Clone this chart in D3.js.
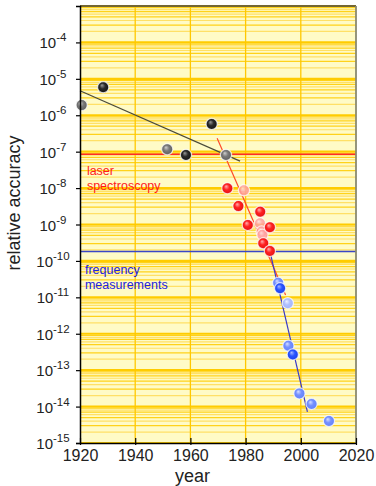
<!DOCTYPE html>
<html><head><meta charset="utf-8">
<script src="https://cdn.jsdelivr.net/npm/d3@7"></script>
<style>html,body{margin:0;padding:0;background:#fff;}svg{display:block;font-family:"Liberation Sans",Arial,sans-serif;}</style>
</head><body>
<svg id="c" width="376" height="486"></svg>
<script>
// ---- data ----
const histYears = [1920.6, 1928.4, 1951.6, 1958.4, 1967.7, 1972.9];
const histVals  = [1.9e-6, 5.9e-6, 1.16e-7, 8.1e-8, 5.75e-7, 8.1e-8];
const histShade = ["gray","black","gray","black","black","gray"];

const laserYears = [1973.4, 1979.4, 1977.4, 1985.3, 1980.8, 1985.2, 1985.8, 1986.1, 1988.8, 1986.4, 1988.8];
const laserVals  = [9.9e-9, 8.7e-9, 3.2e-9, 2.25e-9, 9.7e-10, 1.08e-9, 6.4e-10, 5.2e-10, 8.4e-10, 3.05e-10, 1.88e-10];
const laserShade = ["red","pink","red","red","red","pink","pink","pink","red","red","red"];

const freqYears = [1991.8, 1992.5, 1995.3, 1995.5, 1997.1, 1999.5, 2003.9, 2010.2];
const freqVals  = [2.5e-11, 1.77e-11, 6.9e-12, 4.7e-13, 2.7e-13, 2.3e-14, 1.18e-14, 4.0e-15];
const freqShade = ["blue","dblue","lblue","blue","dblue","blue","blue","blue"];

const histFitYears = [1920, 1978];   const histFitVals = [4.7e-6, 5.5e-8];
const laserFitYears = [1969.7, 1994.5]; const laserFitVals = [2.33e-7, 1.16e-11];
const freqFitYears = [1989.1, 2002.4];  const freqFitVals = [1.46e-10, 7.2e-15];

const laserBoundary = 8.5e-8;
const freqBoundary = 1.8e-10;

const xTicks = [1920, 1940, 1960, 1980, 2000, 2020];
const yTickExps = [-4, -5, -6, -7, -8, -9, -10, -11, -12, -13, -14, -15];
const yDomain = [1e-15, 1e-3];
const xDomain = [1920, 2020];

// ---- layout ----
const L = 80, R = 356, T = 6, B = 443;
const svg = d3.select("#c");
const x = d3.scaleLinear().domain(xDomain).range([L, R]);
const y = d3.scaleLog().domain(yDomain).range([B, T]);

// gradients
const shades = {
  black: ["#9a9a9a", "#2a2a2a", "#111"],
  gray:  ["#d0d0d0", "#7a7a7a", "#5a5a5a"],
  red:   ["#ffb0b0", "#ff2222", "#e01010"],
  pink:  ["#ffe0e0", "#ffa4a4", "#ff9090"],
  blue:  ["#d8e0ff", "#7590ff", "#6080f8"],
  dblue: ["#a8b8ff", "#2a55ff", "#1a3ee8"],
  lblue: ["#f0f3ff", "#b0c0ff", "#a0b2fb"]
};
const defs = svg.append("defs");
Object.entries(shades).forEach(([k, c]) => {
  const g = defs.append("radialGradient").attr("id", "g-" + k)
    .attr("cx", "50%").attr("cy", "50%").attr("r", "55%").attr("fx", "38%").attr("fy", "32%");
  g.append("stop").attr("offset", "0%").attr("stop-color", c[0]);
  g.append("stop").attr("offset", "45%").attr("stop-color", c[1]);
  g.append("stop").attr("offset", "100%").attr("stop-color", c[2]);
});

// background
svg.append("rect").attr("x", L).attr("y", T).attr("width", R - L).attr("height", B - T).attr("fill", "#fffbc6");

// horizontal grid
const gridG = svg.append("g");
yTickExps.concat([-3]).forEach(e => {
  for (let k = 1; k <= 9; k++) {
    const v = k * Math.pow(10, e);
    if (v > yDomain[1] * 1.0001 || v < yDomain[0]) continue;
    gridG.append("line").attr("x1", L).attr("x2", R).attr("y1", y(v)).attr("y2", y(v))
      .attr("stroke", k === 1 ? "#ffcc00" : (k % 2 ? "#ffd21a" : "#ffe066"))
      .attr("stroke-width", k === 1 ? 2.2 : 1.2);
  }
});
// vertical grid
xTicks.slice(1, -1).forEach(t => {
  gridG.append("line").attr("x1", x(t)).attr("x2", x(t)).attr("y1", T).attr("y2", B)
    .attr("stroke", "#ffc800").attr("stroke-width", 1.3);
});

// boundary lines
svg.append("line").attr("x1", L).attr("x2", R).attr("y1", y(laserBoundary)).attr("y2", y(laserBoundary))
  .attr("stroke", "#ff2a2a").attr("stroke-width", 1.5);
svg.append("line").attr("x1", L).attr("x2", R).attr("y1", y(freqBoundary)).attr("y2", y(freqBoundary))
  .attr("stroke", "#3a46c8").attr("stroke-width", 1.5);

// region labels
const lab = svg.append("g").attr("font-size", "12.5px");
lab.append("text").attr("x", x(1922.5)).attr("y", y(laserBoundary) + 21).attr("fill", "#ff1a1a").text("laser");
lab.append("text").attr("x", x(1922.5)).attr("y", y(laserBoundary) + 35.5).attr("fill", "#ff1a1a").text("spectroscopy");
lab.append("text").attr("x", x(1921.8)).attr("y", y(freqBoundary) + 22).attr("fill", "#2222dd").text("frequency");
lab.append("text").attr("x", x(1921.8)).attr("y", y(freqBoundary) + 37.5).attr("fill", "#2222dd").text("measurements");

// fit lines
const line = d3.line().x(d => x(d[0])).y(d => y(d[1]));
svg.append("path").attr("d", line(d3.zip(histFitYears, histFitVals))).attr("stroke", "#4b4b3a").attr("stroke-width", 1.2).attr("fill", "none");
svg.append("path").attr("d", line(d3.zip(laserFitYears, laserFitVals))).attr("stroke", "#ff4a2a").attr("stroke-width", 1.2).attr("fill", "none");
svg.append("path").attr("d", line(d3.zip(freqFitYears, freqFitVals))).attr("stroke", "#3a3ac8").attr("stroke-width", 1.2).attr("fill", "none");

// points
function drawPts(ys, vs, sh) {
  svg.append("g").selectAll("circle").data(d3.zip(ys, vs, sh)).join("circle")
    .attr("cx", d => x(d[0])).attr("cy", d => y(d[1])).attr("r", 5.6)
    .attr("fill", d => "url(#g-" + d[2] + ")")
    .attr("stroke", "rgba(255,255,255,0.75)").attr("stroke-width", 1.2)
    .attr("fill-opacity", d => d[2] === "pink" ? 0.85 : 1);
}
drawPts(histYears, histVals, histShade);
drawPts(laserYears, laserVals, laserShade);
drawPts(freqYears, freqVals, freqShade);

// frame
svg.append("line").attr("x1", L).attr("x2", R).attr("y1", T).attr("y2", T).attr("stroke", "#444").attr("stroke-width", 1.5);
svg.append("line").attr("x1", R).attr("x2", R).attr("y1", T).attr("y2", B).attr("stroke", "#8a8a70").attr("stroke-width", 1.8);

// axes
const yAxis = d3.axisLeft(y).tickValues(yTickExps.map(e => Math.pow(10, e))).tickSize(4).tickFormat("");
const yg = svg.append("g").attr("transform", `translate(${L},0)`).call(yAxis);
yg.select(".domain").attr("stroke", "#000").attr("stroke-width", 1.5);
yg.selectAll(".tick line").attr("stroke", "#000").attr("stroke-width", 1.2);
const ylab = svg.append("g").attr("fill", "#222");
yTickExps.forEach(e => {
  const t = ylab.append("text").attr("x", 53).attr("y", y(Math.pow(10, e)) + 6)
    .attr("text-anchor", "middle").attr("font-size", "15px");
  t.append("tspan").text("10");
  t.append("tspan").attr("dy", -7).attr("font-size", "11.5px").text("-" + (-e));
});

const xAxis = d3.axisBottom(x).tickValues(xTicks).tickSize(0).tickFormat("");
const xg = svg.append("g").attr("transform", `translate(0,${B})`).call(xAxis);
xg.select(".domain").attr("stroke", "#000").attr("stroke-width", 1.5);
xg.selectAll(".tick").append("line").attr("y1", -5).attr("y2", 2).attr("stroke", "#000").attr("stroke-width", 1.2);
xg.selectAll(".tick").append("text").attr("y", 18).attr("fill", "#222").attr("font-size", "16px")
  .attr("text-anchor", "middle").text(d => d);

svg.append("text").attr("x", 192.5).attr("y", 482).attr("text-anchor", "middle").attr("font-size", "18px").attr("fill", "#222").text("year");
svg.append("text").attr("transform", "translate(20,203) rotate(-90)").attr("text-anchor", "middle").attr("font-size", "18px").attr("fill", "#222").text("relative accuracy");
</script>
</body></html>
